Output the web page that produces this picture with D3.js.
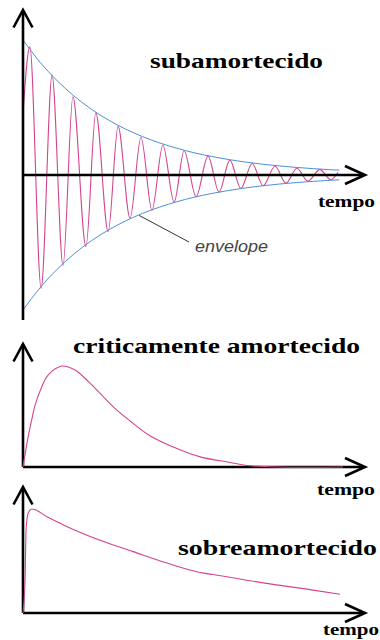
<!DOCTYPE html>
<html>
<head>
<meta charset="utf-8">
<script src="https://cdn.jsdelivr.net/npm/d3@7"></script>
<style>
  html, body { margin: 0; padding: 0; background: #fff; }
  svg { display: block; }
</style>
</head>
<body>
<div id="viz"></div>
<script>
// Three damping regimes: under-, critically and over-damped.
// Time runs 0..10 along each x axis, amplitude is normalised per panel.

// subamortecido: extrema of the oscillation (time, amplitude)
var underTimes = [0, 0.2, 0.53, 0.85, 1.17, 1.46, 1.84, 2.13, 2.49, 2.78, 3.13, 3.45, 3.77, 4.09, 4.42,
                  4.71, 5.06, 5.41, 5.73, 6.05, 6.37, 6.70, 7.02, 7.37, 7.69, 8.01, 8.33, 8.68, 9.0, 9.21];
var underValues = [0.45, 0.95, -0.84, 0.74, -0.67, 0.58, -0.53, 0.46, -0.42, 0.36, -0.32, 0.28, -0.26, 0.22, -0.20,
                   0.18, -0.16, 0.14, -0.125, 0.11, -0.10, 0.085, -0.08, 0.065, -0.06, 0.05, -0.045, 0.04, -0.035, 0.02];

// envelope of the oscillation
var envTimes = [0, 0.5, 1, 1.5, 2, 2.5, 3, 3.5, 4, 4.5, 5, 5.5, 6, 6.5, 7, 7.5, 8, 8.5, 9, 9.25];
var envValues = [1, 0.835, 0.698, 0.583, 0.487, 0.407, 0.340, 0.284, 0.237, 0.198, 0.165, 0.138,
                 0.115, 0.096, 0.080, 0.067, 0.056, 0.047, 0.039, 0.036];

// criticamente amortecido
var critTimes = [0, 0.146, 0.263, 0.351, 0.556, 0.731, 1.14, 1.52, 1.90, 2.31, 2.69, 3.19, 3.71, 4.59, 5.18, 6.05, 6.55, 7.5, 9.36];
var critValues = [0, 0.29, 0.48, 0.61, 0.80, 0.91, 1.0, 0.96, 0.85, 0.71, 0.58, 0.44, 0.31, 0.17, 0.10, 0.045, 0.015, 0, 0];

// sobreamortecido
var overTimes = [0, 0.06, 0.09, 0.15, 0.26, 0.73, 1.29, 2.25, 3.22, 4.21, 5.18, 5.56, 7.02, 8.48, 9.27];
var overValues = [0, 0.32, 0.80, 0.96, 1.0, 0.92, 0.83, 0.70, 0.59, 0.48, 0.39, 0.37, 0.29, 0.22, 0.18];

var titles = ["subamortecido", "criticamente amortecido", "sobreamortecido"];
var axisLabel = "tempo";
var envLabel = "envelope";

var pink = "#d4438d";
var blue = "#4f8fd9";

function zip(a, b) { return a.map(function(d, i) { return [d, b[i]]; }); }

var svg = d3.select("#viz").append("svg")
    .attr("width", 380)
    .attr("height", 640);

var x = d3.scaleLinear().domain([0, 10]).range([23, 365]);

var panels = [
    {y: d3.scaleLinear().domain([-1, 1]).range([310, 40]), top: 10, bottom: 320, base: 175},
    {y: d3.scaleLinear().domain([0, 1]).range([467, 366]), top: 344, bottom: 467, base: 467},
    {y: d3.scaleLinear().domain([0, 1]).range([613, 509]), top: 487, bottom: 613, base: 613}
];

function draw_axes(g, p) {
    var x0 = x(0), x1 = x(10);
    g.append("line")
        .attr("x1", x0).attr("y1", p.bottom).attr("x2", x0).attr("y2", p.top + 1)
        .attr("stroke", "#000").attr("stroke-width", 2.6);
    g.append("line")
        .attr("x1", x0).attr("y1", p.base).attr("x2", x1 - 1).attr("y2", p.base)
        .attr("stroke", "#000").attr("stroke-width", 2.6);
    // open arrow heads
    g.append("path")
        .attr("d", "M" + (x0 - 9.5) + "," + (p.top + 17.5) + "L" + x0 + "," + p.top + "L" + (x0 + 9.5) + "," + (p.top + 17.5))
        .attr("fill", "none").attr("stroke", "#000").attr("stroke-width", 2.6);
    g.append("path")
        .attr("d", "M" + (x1 - 20) + "," + (p.base - 9) + "L" + x1 + "," + p.base + "L" + (x1 - 20) + "," + (p.base + 9))
        .attr("fill", "none").attr("stroke", "#000").attr("stroke-width", 2.6);
}

function draw_curve(g, p, data, color, width, curve) {
    var line = d3.line()
        .x(function(d) { return x(d[0]); })
        .y(function(d) { return p.y(d[1]); })
        .curve(curve || d3.curveMonotoneX);
    g.append("path")
        .datum(data)
        .attr("d", line)
        .attr("fill", "none")
        .attr("stroke", color)
        .attr("stroke-width", width);
}

function add_text(txt, x0, y0, size, len, style) {
    var t = svg.append("text")
        .attr("x", x0).attr("y", y0)
        .attr("textLength", len)
        .attr("lengthAdjust", "spacingAndGlyphs")
        .style("font-size", size + "px")
        .text(txt);
    if (style == "title") {
        t.style("font-family", "'Liberation Serif', 'Times New Roman', serif")
         .style("font-weight", "bold").attr("fill", "#000");
    } else {
        t.style("font-family", "'Liberation Sans', Arial, sans-serif")
         .style("font-style", "italic").attr("fill", "#444");
    }
    return t;
}

// panel 1 : subamortecido
var g1 = svg.append("g");
draw_curve(g1, panels[0], zip(underTimes, underValues), pink, 1.1);
draw_curve(g1, panels[0], zip(envTimes, envValues), blue, 1);
draw_curve(g1, panels[0], zip(envTimes, envValues.map(function(v) { return -v; })), blue, 1);
draw_axes(g1, panels[0]);

// pointer from the envelope to its label
g1.append("line")
    .attr("x1", x(3.4)).attr("y1", panels[0].y(-0.3))
    .attr("x2", 189).attr("y2", 242)
    .attr("stroke", "#333").attr("stroke-width", 1);

// panel 2 : criticamente amortecido
var g2 = svg.append("g");
draw_axes(g2, panels[1]);
draw_curve(g2, panels[1], zip(critTimes, critValues), pink, 1.1, d3.curveCatmullRom.alpha(0.5));

// panel 3 : sobreamortecido
var g3 = svg.append("g");
draw_axes(g3, panels[2]);
draw_curve(g3, panels[2], zip(overTimes, overValues), pink, 1.1);

// labels
add_text(titles[0], 150, 68, 22, 173, "title");
add_text(titles[1], 73, 353, 22, 287, "title");
add_text(titles[2], 178, 555, 22, 199, "title");
add_text(axisLabel, 318, 207, 17, 57, "title");
add_text(axisLabel, 317, 495, 17, 58, "title");
add_text(axisLabel, 323, 635, 17, 56, "title");
add_text(envLabel, 195, 252, 16, 73, "note");
</script>
</body>
</html>
